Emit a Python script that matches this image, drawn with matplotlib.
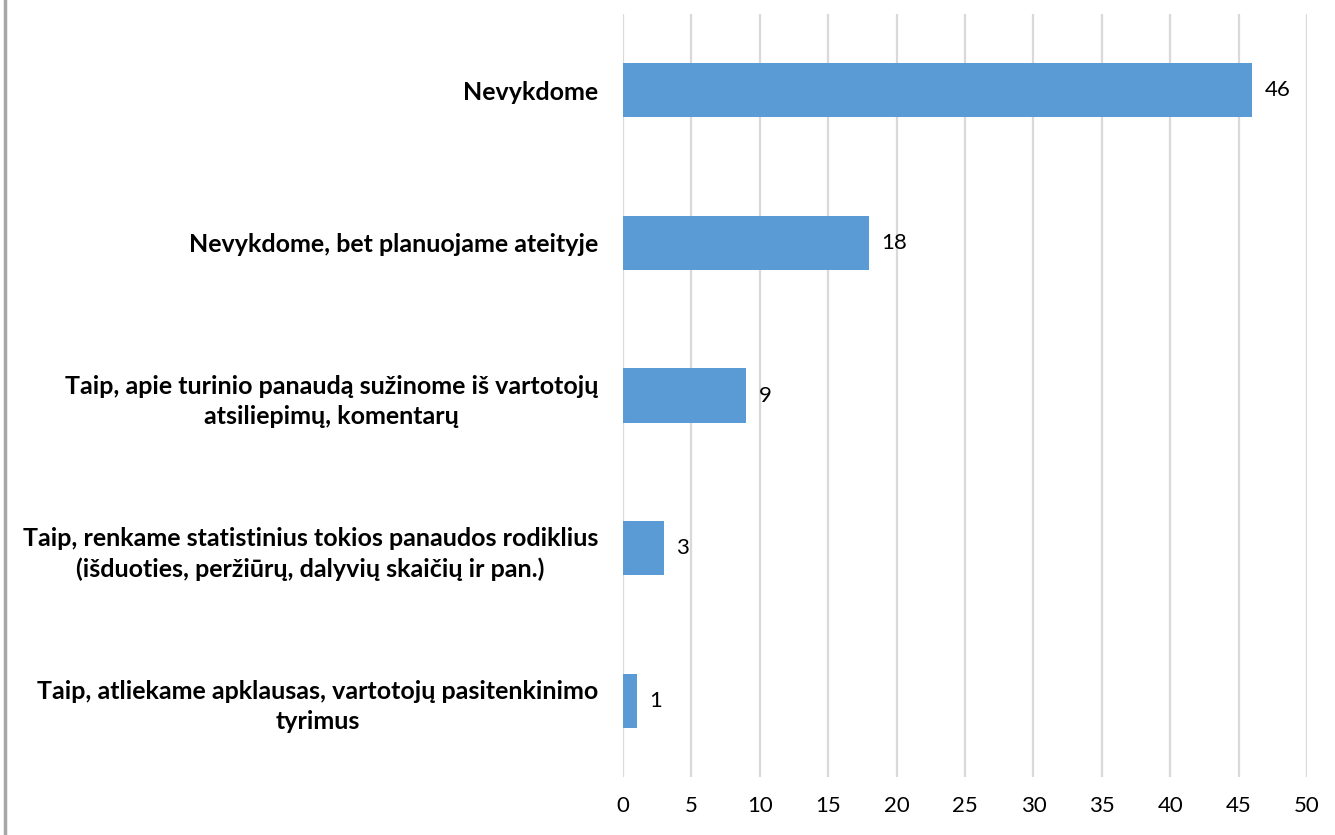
import numpy as np
import matplotlib.pyplot as plt

# survey answers, bottom to top as drawn
categories = [
    "Taip, atliekame apklausas, vartotojų pasitenkinimo\ntyrimus",
    "Taip, renkame statistinius tokios panaudos rodiklius\n(išduoties, peržiūrų, dalyvių skaičių ir pan.)",
    "Taip, apie turinio panaudą sužinome iš vartotojų\natsiliepimų, komentarų",
    "Nevykdome, bet planuojame ateityje",
    "Nevykdome",
]
values = [1, 3, 9, 18, 46]
xticks = list(range(0, 55, 5))

plt.rcParams['font.family'] = ['Lato', 'DejaVu Sans']

fig = plt.figure(figsize=(13.35, 8.35), dpi=100)
ax = fig.add_axes([623 / 1335, 1 - 777 / 835, (1307 - 623) / 1335, (777 - 14) / 835])

y = np.arange(len(categories))
ax.barh(y, values, height=0.355, color='#5B9BD5', zorder=3)

for yi, v in zip(y, values):
    ax.text(v + 0.9, yi, str(v), va='center', ha='left', fontsize=16, color='black')

ax.set_xlim(0, 50)
ax.set_ylim(-0.5, len(categories) - 0.5)
ax.set_xticks(xticks)
ax.set_xticklabels([str(t) for t in xticks], fontsize=16)
ax.set_yticks(y)
ax.set_yticklabels(categories, fontsize=18, fontweight='bold', ha='right',
                   multialignment='center', linespacing=1.4)

ax.tick_params(axis='x', length=0, pad=14)
ax.tick_params(axis='y', length=0, pad=18)
ax.grid(axis='x', color='#D9D9D9', linewidth=1.6, zorder=0)
for s in ax.spines.values():
    s.set_visible(False)

# grey border on the left edge of the picture
fig.add_artist(plt.Line2D([5 / 1335, 5 / 1335], [0, 1], color='#A6A6A6', linewidth=2.5))

fig.savefig('out.png', dpi=100)
